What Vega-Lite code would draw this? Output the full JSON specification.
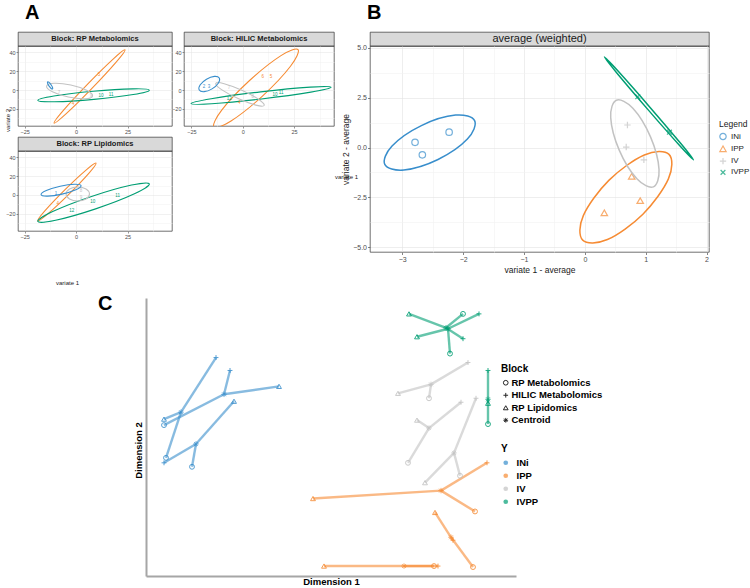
{
"$schema": "https://vega.github.io/schema/vega-lite/v6.json",
"background": "white",
"padding": {"left": 3, "top": 2, "right": 0, "bottom": 0},
"config": {"font": "Liberation Sans", "view": {"stroke": null}},
"datasets": {
"ell": [
{"p":"RPM","Y":"IPP","k":0,"x":23.78,"y":42.47},{"p":"RPM","Y":"IPP","k":1,"x":19.47,"y":29.52},{"p":"RPM","Y":"IPP","k":2,"x":7.59,"y":1.49},{"p":"RPM","Y":"IPP","k":3,"x":-4.9,"y":-25.21},{"p":"RPM","Y":"IPP","k":4,"x":-10.68,"y":-34.95},{"p":"RPM","Y":"IPP","k":5,"x":-6.37,"y":-22.0},{"p":"RPM","Y":"IPP","k":6,"x":5.51,"y":6.03},{"p":"RPM","Y":"IPP","k":7,"x":18.0,"y":32.73},
{"p":"RPM","Y":"IVPP","k":0,"x":35.59,"y":-0.21},{"p":"RPM","Y":"IVPP","k":1,"x":27.77,"y":-4.81},{"p":"RPM","Y":"IVPP","k":2,"x":8.67,"y":-9.87},{"p":"RPM","Y":"IVPP","k":3,"x":-10.53,"y":-12.42},{"p":"RPM","Y":"IVPP","k":4,"x":-18.59,"y":-10.97},{"p":"RPM","Y":"IVPP","k":5,"x":-10.77,"y":-6.37},{"p":"RPM","Y":"IVPP","k":6,"x":8.33,"y":-1.31},{"p":"RPM","Y":"IVPP","k":7,"x":27.53,"y":1.24},
{"p":"RPM","Y":"IV","k":0,"x":8.0,"y":-6.34},{"p":"RPM","Y":"IV","k":1,"x":4.3,"y":-9.26},{"p":"RPM","Y":"IV","k":2,"x":-3.77,"y":-7.39},{"p":"RPM","Y":"IV","k":3,"x":-11.48,"y":-1.82},{"p":"RPM","Y":"IV","k":4,"x":-14.32,"y":4.18},{"p":"RPM","Y":"IV","k":5,"x":-10.62,"y":7.1},{"p":"RPM","Y":"IV","k":6,"x":-2.55,"y":5.23},{"p":"RPM","Y":"IV","k":7,"x":5.16,"y":-0.34},
{"p":"RPM","Y":"INi","k":0,"x":-11.41,"y":1.08},{"p":"RPM","Y":"INi","k":1,"x":-12.1,"y":1.65},{"p":"RPM","Y":"INi","k":2,"x":-13.1,"y":4.09},{"p":"RPM","Y":"INi","k":3,"x":-13.81,"y":6.97},{"p":"RPM","Y":"INi","k":4,"x":-13.83,"y":8.6},{"p":"RPM","Y":"INi","k":5,"x":-13.14,"y":8.03},{"p":"RPM","Y":"INi","k":6,"x":-12.14,"y":5.59},{"p":"RPM","Y":"INi","k":7,"x":-11.43,"y":2.71},
{"p":"HILIC","Y":"IPP","k":0,"x":26.98,"y":42.69},{"p":"HILIC","Y":"IPP","k":1,"x":23.29,"y":25.08},{"p":"HILIC","Y":"IPP","k":2,"x":9.76,"y":-6.15},{"p":"HILIC","Y":"IPP","k":3,"x":-5.68,"y":-32.7},{"p":"HILIC","Y":"IPP","k":4,"x":-14.0,"y":-39.03},{"p":"HILIC","Y":"IPP","k":5,"x":-10.31,"y":-21.42},{"p":"HILIC","Y":"IPP","k":6,"x":3.22,"y":9.81},{"p":"HILIC","Y":"IPP","k":7,"x":18.66,"y":36.36},
{"p":"HILIC","Y":"IVPP","k":0,"x":43.08,"y":2.9},{"p":"HILIC","Y":"IVPP","k":1,"x":33.21,"y":-2.26},{"p":"HILIC","Y":"IVPP","k":2,"x":9.13,"y":-9.44},{"p":"HILIC","Y":"IVPP","k":3,"x":-15.08,"y":-14.42},{"p":"HILIC","Y":"IVPP","k":4,"x":-25.22,"y":-14.3},{"p":"HILIC","Y":"IVPP","k":5,"x":-15.35,"y":-9.14},{"p":"HILIC","Y":"IVPP","k":6,"x":8.73,"y":-1.96},{"p":"HILIC","Y":"IVPP","k":7,"x":32.94,"y":3.02},
{"p":"HILIC","Y":"IV","k":0,"x":10.48,"y":-16.23},{"p":"HILIC","Y":"IV","k":1,"x":6.39,"y":-15.95},{"p":"HILIC","Y":"IV","k":2,"x":-2.22,"y":-9.04},{"p":"HILIC","Y":"IV","k":3,"x":-10.3,"y":0.46},{"p":"HILIC","Y":"IV","k":4,"x":-13.12,"y":6.99},{"p":"HILIC","Y":"IV","k":5,"x":-9.03,"y":6.71},{"p":"HILIC","Y":"IV","k":6,"x":-0.42,"y":-0.2},{"p":"HILIC","Y":"IV","k":7,"x":7.66,"y":-9.7},
{"p":"HILIC","Y":"INi","k":0,"x":-11.41,"y":12.63},{"p":"HILIC","Y":"INi","k":1,"x":-11.89,"y":7.18},{"p":"HILIC","Y":"INi","k":2,"x":-14.94,"y":1.24},{"p":"HILIC","Y":"INi","k":3,"x":-18.79,"y":-1.71},{"p":"HILIC","Y":"INi","k":4,"x":-21.17,"y":0.05},{"p":"HILIC","Y":"INi","k":5,"x":-20.69,"y":5.5},{"p":"HILIC","Y":"INi","k":6,"x":-17.64,"y":11.44},{"p":"HILIC","Y":"INi","k":7,"x":-13.79,"y":14.39},
{"p":"RPL","Y":"IPP","k":0,"x":9.71,"y":33.91},{"p":"RPL","Y":"IPP","k":1,"x":6.29,"y":23.3},{"p":"RPL","Y":"IPP","k":2,"x":-3.42,"y":0.92},{"p":"RPL","Y":"IPP","k":3,"x":-13.72,"y":-20.11},{"p":"RPL","Y":"IPP","k":4,"x":-18.59,"y":-27.49},{"p":"RPL","Y":"IPP","k":5,"x":-15.17,"y":-16.88},{"p":"RPL","Y":"IPP","k":6,"x":-5.46,"y":5.5},{"p":"RPL","Y":"IPP","k":7,"x":4.84,"y":26.53},
{"p":"RPL","Y":"IVPP","k":0,"x":35.59,"y":11.77},{"p":"RPL","Y":"IVPP","k":1,"x":28.36,"y":1.26},{"p":"RPL","Y":"IVPP","k":2,"x":9.5,"y":-14.78},{"p":"RPL","Y":"IVPP","k":3,"x":-9.95,"y":-26.95},{"p":"RPL","Y":"IVPP","k":4,"x":-18.59,"y":-28.13},{"p":"RPL","Y":"IVPP","k":5,"x":-11.36,"y":-17.62},{"p":"RPL","Y":"IVPP","k":6,"x":7.5,"y":-1.58},{"p":"RPL","Y":"IVPP","k":7,"x":26.95,"y":10.59},
{"p":"RPL","Y":"IV","k":0,"x":6.51,"y":1.07},{"p":"RPL","Y":"IV","k":1,"x":4.85,"y":-4.23},{"p":"RPL","Y":"IV","k":2,"x":0.83,"y":-6.42},{"p":"RPL","Y":"IV","k":3,"x":-3.19,"y":-4.23},{"p":"RPL","Y":"IV","k":4,"x":-4.85,"y":1.07},{"p":"RPL","Y":"IV","k":5,"x":-3.19,"y":6.37},{"p":"RPL","Y":"IV","k":6,"x":0.83,"y":8.56},{"p":"RPL","Y":"IV","k":7,"x":4.85,"y":6.37},
{"p":"RPL","Y":"INi","k":0,"x":2.43,"y":9.94},{"p":"RPL","Y":"INi","k":1,"x":-0.11,"y":5.58},{"p":"RPL","Y":"INi","k":2,"x":-6.85,"y":0.96},{"p":"RPL","Y":"INi","k":3,"x":-13.84,"y":-1.22},{"p":"RPL","Y":"INi","k":4,"x":-16.99,"y":0.32},{"p":"RPL","Y":"INi","k":5,"x":-14.45,"y":4.68},{"p":"RPL","Y":"INi","k":6,"x":-7.71,"y":9.3},{"p":"RPL","Y":"INi","k":7,"x":-0.72,"y":11.48},
{"p":"B","Y":"INi","k":0,"x":-1.811,"y":1.348},{"p":"B","Y":"INi","k":1,"x":-1.93,"y":0.423},{"p":"B","Y":"INi","k":2,"x":-2.412,"y":-0.603},{"p":"B","Y":"INi","k":3,"x":-2.974,"y":-1.129},{"p":"B","Y":"INi","k":4,"x":-3.287,"y":-0.848},{"p":"B","Y":"INi","k":5,"x":-3.168,"y":0.077},{"p":"B","Y":"INi","k":6,"x":-2.686,"y":1.103},{"p":"B","Y":"INi","k":7,"x":-2.124,"y":1.629},
{"p":"B","Y":"IPP","k":0,"x":1.383,"y":-0.345},{"p":"B","Y":"IPP","k":1,"x":1.373,"y":-1.577},{"p":"B","Y":"IPP","k":2,"x":0.954,"y":-3.35},{"p":"B","Y":"IPP","k":3,"x":0.371,"y":-4.625},{"p":"B","Y":"IPP","k":4,"x":-0.035,"y":-4.655},{"p":"B","Y":"IPP","k":5,"x":-0.025,"y":-3.423},{"p":"B","Y":"IPP","k":6,"x":0.394,"y":-1.65},{"p":"B","Y":"IPP","k":7,"x":0.977,"y":-0.375},
{"p":"B","Y":"IV","k":0,"x":1.126,"y":-1.975},{"p":"B","Y":"IV","k":1,"x":0.855,"y":-1.573},{"p":"B","Y":"IV","k":2,"x":0.565,"y":-0.133},{"p":"B","Y":"IV","k":3,"x":0.425,"y":1.502},{"p":"B","Y":"IV","k":4,"x":0.518,"y":2.375},{"p":"B","Y":"IV","k":5,"x":0.789,"y":1.973},{"p":"B","Y":"IV","k":6,"x":1.079,"y":0.533},{"p":"B","Y":"IV","k":7,"x":1.219,"y":-1.102},
{"p":"B","Y":"IVPP","k":0,"x":1.785,"y":-0.62},{"p":"B","Y":"IVPP","k":1,"x":1.557,"y":0.103},{"p":"B","Y":"IVPP","k":2,"x":1.034,"y":1.916},{"p":"B","Y":"IVPP","k":3,"x":0.522,"y":3.758},{"p":"B","Y":"IVPP","k":4,"x":0.321,"y":4.55},{"p":"B","Y":"IVPP","k":5,"x":0.549,"y":3.827},{"p":"B","Y":"IVPP","k":6,"x":1.072,"y":2.014},{"p":"B","Y":"IVPP","k":7,"x":1.584,"y":0.172}
],
"lab": [
{"p":"RPM","Y":"IPP","t":"5","x":11.2,"y":15.6},{"p":"RPM","Y":"IPP","t":"4","x":-1.5,"y":-14.5},{"p":"RPM","Y":"IV","t":"7","x":-8.3,"y":-2.7},{"p":"RPM","Y":"IV","t":"9","x":7.3,"y":-5.9},{"p":"RPM","Y":"IVPP","t":"10","x":12.1,"y":-5.9},{"p":"RPM","Y":"IVPP","t":"11","x":17.0,"y":-4.8},
{"p":"HILIC","Y":"IPP","t":"6","x":9.8,"y":13.7},{"p":"HILIC","Y":"IPP","t":"5","x":13.8,"y":13.7},{"p":"HILIC","Y":"IPP","t":"4","x":-1.7,"y":-13.2},{"p":"HILIC","Y":"IVPP","t":"10","x":15.8,"y":-5.4},{"p":"HILIC","Y":"IVPP","t":"11","x":18.7,"y":-3.5},{"p":"HILIC","Y":"IVPP","t":"12","x":-6.5,"y":-9.0},{"p":"HILIC","Y":"IV","t":"7","x":-6.7,"y":1.8},{"p":"HILIC","Y":"IV","t":"8","x":4.9,"y":-7.5},{"p":"HILIC","Y":"INi","t":"2","x":-18.9,"y":2.9},{"p":"HILIC","Y":"INi","t":"3","x":-16.4,"y":2.9},
{"p":"RPL","Y":"INi","t":"1","x":-9.7,"y":1.1},{"p":"RPL","Y":"IV","t":"8","x":2.4,"y":4.0},{"p":"RPL","Y":"IV","t":"9","x":2.4,"y":-2.9},{"p":"RPL","Y":"IVPP","t":"10","x":8.1,"y":-7.2},{"p":"RPL","Y":"IVPP","t":"11","x":20.2,"y":-0.7},{"p":"RPL","Y":"IVPP","t":"12","x":-2.1,"y":-17.4},{"p":"RPL","Y":"IPP","t":"4","x":-8.9,"y":-9.6}
],
"bpts": [
{"Y":"INi","x":-2.79,"y":0.26},{"Y":"INi","x":-2.67,"y":-0.37},{"Y":"INi","x":-2.23,"y":0.77},
{"Y":"IPP","x":0.77,"y":-1.45},{"Y":"IPP","x":0.91,"y":-2.67},{"Y":"IPP","x":0.32,"y":-3.28},
{"Y":"IV","x":0.7,"y":1.13},{"Y":"IV","x":0.68,"y":0.02},{"Y":"IV","x":0.97,"y":-0.62},
{"Y":"IVPP","x":0.87,"y":2.55},{"Y":"IVPP","x":1.39,"y":0.77}
],
"cpts": [
{"s":"B1","Y":"INi","block":"Centroid","x":-3.75,"y":0.625,"cx":-3.75,"cy":0.625},
{"s":"B1","Y":"INi","block":"HILIC Metabolomics","x":-2.875,"y":2.0,"cx":-3.75,"cy":0.625},
{"s":"B1","Y":"INi","block":"RP Lipidomics","x":-4.175,"y":0.45,"cx":-3.75,"cy":0.625},
{"s":"B1","Y":"INi","block":"RP Metabolomics","x":-4.125,"y":-0.525,"cx":-3.75,"cy":0.625},
{"s":"B2","Y":"INi","block":"Centroid","x":-2.675,"y":1.075,"cx":-2.675,"cy":1.075},
{"s":"B2","Y":"INi","block":"HILIC Metabolomics","x":-2.525,"y":1.675,"cx":-2.675,"cy":1.075},
{"s":"B2","Y":"INi","block":"RP Lipidomics","x":-1.3,"y":1.275,"cx":-2.675,"cy":1.075},
{"s":"B2","Y":"INi","block":"RP Metabolomics","x":-4.175,"y":0.3,"cx":-2.675,"cy":1.075},
{"s":"B3","Y":"INi","block":"Centroid","x":-3.375,"y":-0.175,"cx":-3.375,"cy":-0.175},
{"s":"B3","Y":"INi","block":"RP Lipidomics","x":-2.425,"y":0.9,"cx":-3.375,"cy":-0.175},
{"s":"B3","Y":"INi","block":"HILIC Metabolomics","x":-4.175,"y":-0.65,"cx":-3.375,"cy":-0.175},
{"s":"B3","Y":"INi","block":"RP Metabolomics","x":-3.475,"y":-0.75,"cx":-3.375,"cy":-0.175},
{"s":"G1","Y":"IV","block":"Centroid","x":2.5,"y":1.325,"cx":2.5,"cy":1.325},
{"s":"G1","Y":"IV","block":"HILIC Metabolomics","x":3.425,"y":1.875,"cx":2.5,"cy":1.325},
{"s":"G1","Y":"IV","block":"RP Lipidomics","x":1.675,"y":1.1,"cx":2.5,"cy":1.325},
{"s":"G1","Y":"IV","block":"RP Metabolomics","x":2.45,"y":0.975,"cx":2.5,"cy":1.325},
{"s":"G2","Y":"IV","block":"Centroid","x":2.45,"y":0.225,"cx":2.45,"cy":0.225},
{"s":"G2","Y":"IV","block":"HILIC Metabolomics","x":3.25,"y":0.875,"cx":2.45,"cy":0.225},
{"s":"G2","Y":"IV","block":"RP Lipidomics","x":2.15,"y":0.425,"cx":2.45,"cy":0.225},
{"s":"G2","Y":"IV","block":"RP Metabolomics","x":1.925,"y":-0.65,"cx":2.45,"cy":0.225},
{"s":"G3","Y":"IV","block":"Centroid","x":3.075,"y":-0.4,"cx":3.075,"cy":-0.4},
{"s":"G3","Y":"IV","block":"HILIC Metabolomics","x":3.625,"y":0.975,"cx":3.075,"cy":-0.4},
{"s":"G3","Y":"IV","block":"RP Metabolomics","x":3.225,"y":-0.975,"cx":3.075,"cy":-0.4},
{"s":"G3","Y":"IV","block":"RP Lipidomics","x":2.35,"y":-1.15,"cx":3.075,"cy":-0.4},
{"s":"O1","Y":"IPP","block":"Centroid","x":2.75,"y":-1.35,"cx":2.75,"cy":-1.35},
{"s":"O1","Y":"IPP","block":"HILIC Metabolomics","x":3.9,"y":-0.65,"cx":2.75,"cy":-1.35},
{"s":"O1","Y":"IPP","block":"RP Metabolomics","x":3.6,"y":-1.875,"cx":2.75,"cy":-1.35},
{"s":"O1","Y":"IPP","block":"RP Lipidomics","x":-0.45,"y":-1.55,"cx":2.75,"cy":-1.35},
{"s":"O2","Y":"IPP","block":"Centroid","x":3.0,"y":-2.525,"cx":3.0,"cy":-2.525},
{"s":"O2","Y":"IPP","block":"RP Lipidomics","x":2.6,"y":-1.9,"cx":3.0,"cy":-2.525},
{"s":"O2","Y":"IPP","block":"RP Metabolomics","x":3.55,"y":-3.275,"cx":3.0,"cy":-2.525},
{"s":"O2","Y":"IPP","block":"HILIC Metabolomics","x":3.05,"y":-2.6,"cx":3.0,"cy":-2.525},
{"s":"O3","Y":"IPP","block":"Centroid","x":1.825,"y":-3.25,"cx":1.825,"cy":-3.25},
{"s":"O3","Y":"IPP","block":"RP Lipidomics","x":-0.175,"y":-3.25,"cx":1.825,"cy":-3.25},
{"s":"O3","Y":"IPP","block":"RP Metabolomics","x":2.575,"y":-3.25,"cx":1.825,"cy":-3.25},
{"s":"O3","Y":"IPP","block":"HILIC Metabolomics","x":2.675,"y":-3.25,"cx":1.825,"cy":-3.25},
{"s":"V1","Y":"IVPP","block":"Centroid","x":2.875,"y":2.75,"cx":2.875,"cy":2.75},
{"s":"V1","Y":"IVPP","block":"RP Lipidomics","x":1.95,"y":3.1,"cx":2.875,"cy":2.75},
{"s":"V1","Y":"IVPP","block":"RP Metabolomics","x":3.3,"y":3.1,"cx":2.875,"cy":2.75},
{"s":"V1","Y":"IVPP","block":"HILIC Metabolomics","x":3.3,"y":2.475,"cx":2.875,"cy":2.75},
{"s":"V2","Y":"IVPP","block":"Centroid","x":2.925,"y":2.725,"cx":2.925,"cy":2.725},
{"s":"V2","Y":"IVPP","block":"RP Lipidomics","x":2.15,"y":2.525,"cx":2.925,"cy":2.725},
{"s":"V2","Y":"IVPP","block":"HILIC Metabolomics","x":3.7,"y":3.1,"cx":2.925,"cy":2.725},
{"s":"V2","Y":"IVPP","block":"RP Metabolomics","x":2.975,"y":2.1,"cx":2.925,"cy":2.725},
{"s":"V3","Y":"IVPP","block":"Centroid","x":3.925,"y":0.95,"cx":3.925,"cy":0.95},
{"s":"V3","Y":"IVPP","block":"HILIC Metabolomics","x":3.925,"y":1.675,"cx":3.925,"cy":0.95},
{"s":"V3","Y":"IVPP","block":"RP Lipidomics","x":3.925,"y":0.85,"cx":3.925,"cy":0.95},
{"s":"V3","Y":"IVPP","block":"RP Metabolomics","x":3.925,"y":0.325,"cx":3.925,"cy":0.95}
]
},
"spacing": 8,
"resolve": {"scale": {"color": "independent", "shape": "independent", "stroke": "independent", "fill": "independent"}, "legend": {"color": "independent", "shape": "independent", "stroke": "independent", "fill": "independent"}},
"vconcat": [
{
"spacing": -17,
"resolve": {"scale": {"color": "independent", "shape": "independent"}, "legend": {"color": "independent", "shape": "independent"}},
"hconcat": [
{
"title": {"text": "A", "anchor": "start", "frame": "group", "fontSize": 20, "fontWeight": "bold", "color": "#000000", "dx": 7, "offset": 9},
"columns": 2,
"spacing": {"row": 0, "column": 12},
"bounds": "flush",
"concat": [
{"width": 154, "height": 14, "data": {"values": [{"s": "Block: RP Metabolomics"}]}, "mark": {"type": "text", "fontSize": 7.5, "fontWeight": "bold", "color": "#1A1A1A"}, "encoding": {"text": {"field": "s", "type": "nominal"}}, "view": {"fill": "#D9D9D9", "stroke": "#333333", "strokeWidth": 0.7}},
{"width": 150, "height": 14, "data": {"values": [{"s": "Block: HILIC Metabolomics"}]}, "mark": {"type": "text", "fontSize": 7.5, "fontWeight": "bold", "color": "#1A1A1A"}, "encoding": {"text": {"field": "s", "type": "nominal"}}, "view": {"fill": "#D9D9D9", "stroke": "#333333", "strokeWidth": 0.7}},
{"width": 154, "height": 80, "view": {"stroke": "#333333", "strokeWidth": 0.7},
"encoding": {
"x": {"field": "x", "type": "quantitative", "scale": {"domain": [-28.2, 46.6], "nice": false, "zero": false}, "axis": {"values": [-25, -12.5, 0, 12.5, 25, 37.5], "labelExpr": "abs(datum.value % 25) < 0.01 ? datum.label : ''", "gridColor": {"condition": {"test": "abs(datum.value % 25) < 0.01", "value": "#E3E3E3"}, "value": "#F1F1F1"}, "gridWidth": 0.5, "tickOpacity": {"condition": {"test": "abs(datum.value % 25) < 0.01", "value": 1}, "value": 0}, "tickSize": 2, "tickColor": "#333333", "tickWidth": 0.5, "labelFontSize": 5.5, "labelColor": "#4D4D4D", "labelPadding": 1, "domain": false, "title": null}},
"y": {"field": "y", "type": "quantitative", "scale": {"domain": [-38, 46.5], "nice": false, "zero": false}, "axis": {"values": [-30, -20, -10, 0, 10, 20, 30, 40], "labelExpr": "abs(datum.value % 20) < 0.01 ? datum.label : ''", "gridColor": {"condition": {"test": "abs(datum.value % 20) < 0.01", "value": "#E3E3E3"}, "value": "#F1F1F1"}, "gridWidth": 0.5, "tickOpacity": {"condition": {"test": "abs(datum.value % 20) < 0.01", "value": 1}, "value": 0}, "tickSize": 2, "tickColor": "#333333", "tickWidth": 0.5, "labelFontSize": 5.5, "labelColor": "#4D4D4D", "labelPadding": 1, "domain": false, "title": null}}
},
"layer": [
{"data": {"name": "ell"}, "transform": [{"filter": "datum.p === 'RPM'"}], "mark": {"type": "line", "interpolate": "cardinal-closed", "strokeWidth": 1.1, "clip": true}, "encoding": {"color": {"field": "Y", "type": "nominal", "scale": {"domain": ["INi", "IPP", "IV", "IVPP"], "range": ["#388ECC", "#F68B33", "#C2C2C2", "#009E73"]}, "legend": null}, "detail": {"field": "Y"}, "order": {"field": "k", "type": "quantitative"}}},
{"data": {"name": "lab"}, "transform": [{"filter": "datum.p === 'RPM'"}], "mark": {"type": "text", "fontSize": 4.5}, "encoding": {"text": {"field": "t", "type": "nominal"}, "color": {"field": "Y", "type": "nominal", "scale": {"domain": ["INi", "IPP", "IV", "IVPP"], "range": ["#388ECC", "#F68B33", "#C2C2C2", "#009E73"]}, "legend": null}}}
]},
{"width": 150, "height": 80, "view": {"stroke": "#333333", "strokeWidth": 0.7},
"encoding": {
"x": {"field": "x", "type": "quantitative", "scale": {"domain": [-28.6, 44.5], "nice": false, "zero": false}, "axis": {"values": [-25, -12.5, 0, 12.5, 25, 37.5], "labelExpr": "abs(datum.value % 25) < 0.01 ? datum.label : ''", "gridColor": {"condition": {"test": "abs(datum.value % 25) < 0.01", "value": "#E3E3E3"}, "value": "#F1F1F1"}, "gridWidth": 0.5, "tickOpacity": {"condition": {"test": "abs(datum.value % 25) < 0.01", "value": 1}, "value": 0}, "tickSize": 2, "tickColor": "#333333", "tickWidth": 0.5, "labelFontSize": 5.5, "labelColor": "#4D4D4D", "labelPadding": 1, "domain": false, "title": "variate 1", "titleX": 162, "titleY": 47, "titleFontSize": 6, "titleFontWeight": "normal", "titleColor": "#1A1A1A"}},
"y": {"field": "y", "type": "quantitative", "scale": {"domain": [-38, 46.5], "nice": false, "zero": false}, "axis": {"values": [-30, -20, -10, 0, 10, 20, 30, 40], "labelExpr": "abs(datum.value % 20) < 0.01 ? datum.label : ''", "gridColor": {"condition": {"test": "abs(datum.value % 20) < 0.01", "value": "#E3E3E3"}, "value": "#F1F1F1"}, "gridWidth": 0.5, "tickOpacity": {"condition": {"test": "abs(datum.value % 20) < 0.01", "value": 1}, "value": 0}, "tickSize": 2, "tickColor": "#333333", "tickWidth": 0.5, "labelFontSize": 5.5, "labelColor": "#4D4D4D", "labelPadding": 1, "domain": false, "title": null}}
},
"layer": [
{"data": {"name": "ell"}, "transform": [{"filter": "datum.p === 'HILIC'"}], "mark": {"type": "line", "interpolate": "cardinal-closed", "strokeWidth": 1.1, "clip": true}, "encoding": {"color": {"field": "Y", "type": "nominal", "scale": {"domain": ["INi", "IPP", "IV", "IVPP"], "range": ["#388ECC", "#F68B33", "#C2C2C2", "#009E73"]}, "legend": null}, "detail": {"field": "Y"}, "order": {"field": "k", "type": "quantitative"}}},
{"data": {"name": "lab"}, "transform": [{"filter": "datum.p === 'HILIC'"}], "mark": {"type": "text", "fontSize": 4.5}, "encoding": {"text": {"field": "t", "type": "nominal"}, "color": {"field": "Y", "type": "nominal", "scale": {"domain": ["INi", "IPP", "IV", "IVPP"], "range": ["#388ECC", "#F68B33", "#C2C2C2", "#009E73"]}, "legend": null}}}
]},
{"width": 154, "height": 11, "data": {"values": [{"s": ""}]}, "mark": {"type": "text"}, "encoding": {"text": {"field": "s", "type": "nominal"}}},
{"width": 150, "height": 11, "data": {"values": [{"s": ""}]}, "mark": {"type": "text"}, "encoding": {"text": {"field": "s", "type": "nominal"}}},
{"width": 154, "height": 14, "data": {"values": [{"s": "Block: RP Lipidomics"}]}, "mark": {"type": "text", "fontSize": 7.5, "fontWeight": "bold", "color": "#1A1A1A"}, "encoding": {"text": {"field": "s", "type": "nominal"}}, "view": {"fill": "#D9D9D9", "stroke": "#333333", "strokeWidth": 0.7}},
{"width": 150, "height": 14, "data": {"values": [{"s": ""}]}, "mark": {"type": "text"}, "encoding": {"text": {"field": "s", "type": "nominal"}}},
{"width": 154, "height": 80, "view": {"stroke": "#333333", "strokeWidth": 0.7},
"encoding": {
"x": {"field": "x", "type": "quantitative", "scale": {"domain": [-28.2, 46.6], "nice": false, "zero": false}, "axis": {"values": [-25, -12.5, 0, 12.5, 25, 37.5], "labelExpr": "abs(datum.value % 25) < 0.01 ? datum.label : ''", "gridColor": {"condition": {"test": "abs(datum.value % 25) < 0.01", "value": "#E3E3E3"}, "value": "#F1F1F1"}, "gridWidth": 0.5, "tickOpacity": {"condition": {"test": "abs(datum.value % 25) < 0.01", "value": 1}, "value": 0}, "tickSize": 2, "tickColor": "#333333", "tickWidth": 0.5, "labelFontSize": 5.5, "labelColor": "#4D4D4D", "labelPadding": 1, "domain": false, "title": "variate 1", "titleX": 49, "titleY": 48, "titleFontSize": 6, "titleFontWeight": "normal", "titleColor": "#1A1A1A"}},
"y": {"field": "y", "type": "quantitative", "scale": {"domain": [-38.3, 46.8], "nice": false, "zero": false}, "axis": {"values": [-30, -20, -10, 0, 10, 20, 30, 40], "labelExpr": "abs(datum.value % 20) < 0.01 ? datum.label : ''", "gridColor": {"condition": {"test": "abs(datum.value % 20) < 0.01", "value": "#E3E3E3"}, "value": "#F1F1F1"}, "gridWidth": 0.5, "tickOpacity": {"condition": {"test": "abs(datum.value % 20) < 0.01", "value": 1}, "value": 0}, "tickSize": 2, "tickColor": "#333333", "tickWidth": 0.5, "labelFontSize": 5.5, "labelColor": "#4D4D4D", "labelPadding": 1, "domain": false, "title": "variate 2", "titleX": -8, "titleY": -31, "titleFontSize": 6, "titleFontWeight": "normal", "titleColor": "#1A1A1A"}}
},
"layer": [
{"data": {"name": "ell"}, "transform": [{"filter": "datum.p === 'RPL'"}], "mark": {"type": "line", "interpolate": "cardinal-closed", "strokeWidth": 1.1, "clip": true}, "encoding": {"color": {"field": "Y", "type": "nominal", "scale": {"domain": ["INi", "IPP", "IV", "IVPP"], "range": ["#388ECC", "#F68B33", "#C2C2C2", "#009E73"]}, "legend": null}, "detail": {"field": "Y"}, "order": {"field": "k", "type": "quantitative"}}},
{"data": {"name": "lab"}, "transform": [{"filter": "datum.p === 'RPL'"}], "mark": {"type": "text", "fontSize": 4.5}, "encoding": {"text": {"field": "t", "type": "nominal"}, "color": {"field": "Y", "type": "nominal", "scale": {"domain": ["INi", "IPP", "IV", "IVPP"], "range": ["#388ECC", "#F68B33", "#C2C2C2", "#009E73"]}, "legend": null}}}
]}
]
},
{
"title": {"text": "B", "anchor": "start", "frame": "group", "fontSize": 20, "fontWeight": "bold", "color": "#000000", "dx": -3, "offset": 9},
"spacing": 0, "bounds": "flush",
"vconcat": [
{"width": 339, "height": 14, "data": {"values": [{"s": "average (weighted)"}]}, "mark": {"type": "text", "fontSize": 11, "color": "#1A1A1A"}, "encoding": {"text": {"field": "s", "type": "nominal"}}, "view": {"fill": "#D9D9D9", "stroke": "#333333", "strokeWidth": 0.7}},
{"width": 339, "height": 206, "view": {"stroke": "#333333", "strokeWidth": 0.7},
"encoding": {
"x": {"field": "x", "type": "quantitative", "scale": {"domain": [-3.53, 2.04], "nice": false, "zero": false}, "axis": {"title": "variate 1 - average", "values": [-3, -2.5, -2, -1.5, -1, -0.5, 0, 0.5, 1, 1.5, 2], "format": ".0f", "labelExpr": "abs(datum.value % 1) < 0.01 ? datum.label : ''", "gridColor": {"condition": {"test": "abs(datum.value % 1) < 0.01", "value": "#E3E3E3"}, "value": "#F1F1F1"}, "gridWidth": 0.6, "tickOpacity": {"condition": {"test": "abs(datum.value % 1) < 0.01", "value": 1}, "value": 0}, "tickSize": 2.5, "tickColor": "#333333", "tickWidth": 0.6, "labelFontSize": 7, "labelColor": "#4D4D4D", "labelPadding": 1, "domain": false, "titleFontSize": 8.5, "titleFontWeight": "normal", "titleColor": "#1A1A1A", "titlePadding": 3}},
"y": {"field": "y", "type": "quantitative", "scale": {"domain": [-5.25, 5.1], "nice": false, "zero": false}, "axis": {"title": "variate 2 - average", "values": [-5, -3.75, -2.5, -1.25, 0, 1.25, 2.5, 3.75, 5], "format": ".1f", "labelExpr": "abs(datum.value % 2.5) < 0.01 ? datum.label : ''", "gridColor": {"condition": {"test": "abs(datum.value % 2.5) < 0.01", "value": "#E3E3E3"}, "value": "#F1F1F1"}, "gridWidth": 0.6, "tickOpacity": {"condition": {"test": "abs(datum.value % 2.5) < 0.01", "value": 1}, "value": 0}, "tickSize": 2.5, "tickColor": "#333333", "tickWidth": 0.6, "labelFontSize": 7, "labelColor": "#4D4D4D", "labelPadding": 1, "domain": false, "titleFontSize": 8.5, "titleFontWeight": "normal", "titleColor": "#1A1A1A", "titlePadding": 2}}
},
"layer": [
{"data": {"name": "bpts"}, "mark": {"type": "point", "filled": false, "size": 42, "strokeWidth": 1.2}, "encoding": {
"color": {"field": "Y", "type": "nominal", "scale": {"domain": ["INi", "IPP", "IV", "IVPP"], "range": ["#388ECC", "#F68B33", "#C2C2C2", "#009E73"]}, "legend": {"title": "Legend", "orient": "none", "legendX": 349, "legendY": 88, "titleFontSize": 8.5, "titleFontWeight": "normal", "titleColor": "#1A1A1A", "labelFontSize": 8, "labelColor": "#1A1A1A", "symbolSize": 40, "symbolStrokeWidth": 1.2, "rowPadding": 0.3, "labelOffset": 4, "titlePadding": 4}},
"shape": {"field": "Y", "type": "nominal", "scale": {"domain": ["INi", "IPP", "IV", "IVPP"], "range": ["circle", "triangle-up", "M0,-1L0,1M-1,0L1,0", "M-0.75,-0.75L0.75,0.75M-0.75,0.75L0.75,-0.75"]}, "legend": {"title": "Legend", "orient": "none", "legendX": 349, "legendY": 88, "titleFontSize": 8.5, "titleFontWeight": "normal", "titleColor": "#1A1A1A", "labelFontSize": 8, "labelColor": "#1A1A1A", "symbolSize": 40, "symbolStrokeWidth": 1.2, "rowPadding": 0.3, "labelOffset": 4, "titlePadding": 4}}
}},
{"data": {"name": "ell"}, "transform": [{"filter": "datum.p === 'B'"}], "mark": {"type": "line", "interpolate": "cardinal-closed", "strokeWidth": 1.5, "clip": true}, "encoding": {"color": {"field": "Y", "type": "nominal", "scale": {"domain": ["INi", "IPP", "IV", "IVPP"], "range": ["#388ECC", "#F68B33", "#C2C2C2", "#009E73"]}, "legend": null}, "detail": {"field": "Y"}, "order": {"field": "k", "type": "quantitative"}}}
]}
]
}
]
},
{
"spacing": 28, "bounds": "flush",
"resolve": {"scale": {"color": "independent", "shape": "independent", "stroke": "independent", "fill": "independent"}, "legend": {"color": "independent", "shape": "independent", "stroke": "independent", "fill": "independent"}},
"hconcat": [
{"width": 100, "height": 278, "data": {"values": [{"s": ""}]}, "mark": {"type": "text"}, "encoding": {"text": {"field": "s", "type": "nominal"}}},
{
"title": {"text": "C", "anchor": "start", "frame": "group", "fontSize": 20, "fontWeight": "bold", "color": "#000000", "dx": -48, "offset": -16},
"width": 370, "height": 278,
"data": {"name": "cpts"},
"encoding": {
"x": {"field": "x", "type": "quantitative", "scale": {"domain": [-4.625, 4.625], "nice": false, "zero": false}, "axis": {"title": "Dimension 1", "labels": false, "ticks": false, "grid": false, "domainColor": "#A6A6A6", "domainWidth": 2, "titleFontSize": 9.5, "titleFontWeight": "bold", "titleColor": "#000000", "titlePadding": 0}},
"y": {"field": "y", "type": "quantitative", "scale": {"domain": [-3.5, 3.5], "nice": false, "zero": false}, "axis": {"title": "Dimension 2", "labels": false, "ticks": false, "grid": false, "domainColor": "#A6A6A6", "domainWidth": 2, "titleFontSize": 9.5, "titleFontWeight": "bold", "titleColor": "#000000", "titlePadding": 3, "titleY": 152}}
},
"layer": [
{"transform": [{"filter": "datum.block !== 'Centroid'"}], "mark": {"type": "rule", "strokeWidth": 2.4, "strokeOpacity": 0.6}, "encoding": {"x2": {"field": "cx"}, "y2": {"field": "cy"}, "stroke": {"field": "Y", "type": "nominal", "scale": {"domain": ["IVPP", "IV", "IPP", "INi"], "range": ["#009E73", "#C2C2C2", "#F68B33", "#388ECC"]}, "legend": null}}},
{"transform": [{"filter": "datum.block !== 'Centroid'"}], "mark": {"type": "point", "filled": false, "size": 24, "strokeWidth": 1, "opacity": 0.85}, "encoding": {
"stroke": {"field": "Y", "type": "nominal", "scale": {"domain": ["IVPP", "IV", "IPP", "INi"], "range": ["#009E73", "#C2C2C2", "#F68B33", "#388ECC"]}, "legend": null},
"shape": {"field": "block", "type": "nominal", "scale": {"domain": ["RP Metabolomics", "HILIC Metabolomics", "RP Lipidomics", "Centroid"], "range": ["circle", "M0,-1L0,1M-1,0L1,0", "triangle-up", "M0,-1L0,1M-1,0L1,0M-0.7,-0.7L0.7,0.7M-0.7,0.7L0.7,-0.7"]}, "legend": {"title": "Block", "orient": "none", "legendX": 355, "legendY": 66, "titleFontSize": 10, "titleFontWeight": "bold", "titleColor": "#000000", "labelFontSize": 9.5, "labelFontWeight": "bold", "labelColor": "#000000", "symbolSize": 22, "symbolStrokeColor": "#000000", "symbolFillColor": "transparent", "symbolStrokeWidth": 1, "labelOffset": 1, "rowPadding": 1.5, "titlePadding": 4}}
}},
{"transform": [{"filter": "datum.block === 'Centroid'"}], "mark": {"type": "point", "filled": true, "size": 30, "strokeWidth": 1}, "encoding": {
"stroke": {"field": "Y", "type": "nominal", "scale": {"domain": ["IVPP", "IV", "IPP", "INi"], "range": ["#009E73", "#C2C2C2", "#F68B33", "#388ECC"]}, "legend": null},
"shape": {"field": "block", "type": "nominal", "scale": {"domain": ["RP Metabolomics", "HILIC Metabolomics", "RP Lipidomics", "Centroid"], "range": ["circle", "M0,-1L0,1M-1,0L1,0", "triangle-up", "M0,-1L0,1M-1,0L1,0M-0.7,-0.7L0.7,0.7M-0.7,0.7L0.7,-0.7"]}, "legend": {"title": "Block", "orient": "none", "legendX": 355, "legendY": 66, "titleFontSize": 10, "titleFontWeight": "bold", "titleColor": "#000000", "labelFontSize": 9.5, "labelFontWeight": "bold", "labelColor": "#000000", "symbolSize": 22, "symbolStrokeColor": "#000000", "symbolFillColor": "transparent", "symbolStrokeWidth": 1, "labelOffset": 1, "rowPadding": 1.5, "titlePadding": 4}},
"fill": {"field": "Y", "type": "nominal", "scale": {"domain": ["INi", "IPP", "IV", "IVPP"], "range": ["#388ECC", "#F68B33", "#C2C2C2", "#009E73"]}, "legend": {"title": "Y", "orient": "none", "legendX": 355, "legendY": 146, "titleFontSize": 10, "titleFontWeight": "bold", "titleColor": "#000000", "labelFontSize": 9.5, "labelFontWeight": "bold", "labelColor": "#000000", "symbolType": "circle", "symbolSize": 22, "symbolStrokeWidth": 0, "labelOffset": 6, "rowPadding": 2, "titlePadding": 4}}
}}
]
}
]
}
]
}
